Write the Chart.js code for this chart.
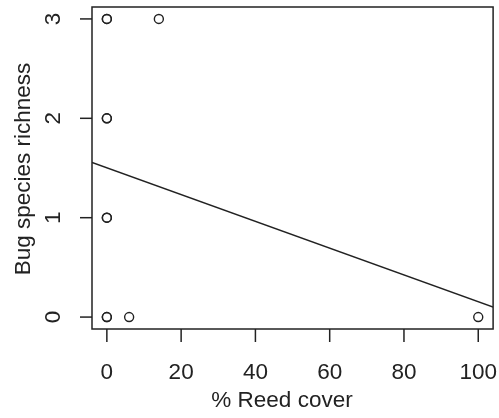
<!DOCTYPE html>
<html>
<head>
<meta charset="utf-8">
<script src="https://cdn.jsdelivr.net/npm/chart.js@4/dist/chart.umd.min.js"></script>
<style>
html,body{margin:0;padding:0;background:#fff;}
#wrap{width:499px;height:418px;}
</style>
</head>
<body>
<div id="wrap"><canvas id="c" width="499" height="418"></canvas></div>
<script>
// Data
const reedCover = [0, 0, 14, 0, 0, 0, 0, 0, 0, 6, 100];
const richness  = [3, 3, 3, 2, 2, 1, 1, 0, 0, 0, 0];
// fitted line read at the box edges
const fitX = [-4, 104];
const fitY = [1.556, 0.10];
const xTicks = [0, 20, 40, 60, 80, 100];
const yTicks = [0, 1, 2, 3];
const xTitle = '% Reed cover';
const yTitle = 'Bug species richness';

const ink = '#222';
const FONT = '22.5px "Liberation Sans", Arial, sans-serif';

const rAxes = {
  id: 'rAxes',
  afterDraw(chart) {
    const ctx = chart.ctx, a = chart.chartArea;
    const xs = chart.scales.x, ys = chart.scales.y;
    ctx.save();
    ctx.strokeStyle = ink;
    ctx.lineWidth = 1.5;
    ctx.strokeRect(a.left, a.top, a.right - a.left, a.bottom - a.top);
    ctx.fillStyle = ink;
    ctx.font = FONT;
    // x ticks
    ctx.textAlign = 'center';
    ctx.textBaseline = 'middle';
    xTicks.forEach(v => {
      const p = xs.getPixelForValue(v);
      ctx.beginPath();
      ctx.moveTo(p, a.bottom);
      ctx.lineTo(p, a.bottom + 13);
      ctx.stroke();
      ctx.fillText(String(v), p, 373);
    });
    // y ticks
    yTicks.forEach(v => {
      const p = ys.getPixelForValue(v);
      ctx.beginPath();
      ctx.moveTo(a.left, p);
      ctx.lineTo(a.left - 12, p);
      ctx.stroke();
      ctx.save();
      ctx.translate(54, p);
      ctx.rotate(-Math.PI / 2);
      ctx.fillText(String(v), 0, 0);
      ctx.restore();
    });
    // titles
    ctx.fillText(xTitle, 282, 401);
    ctx.save();
    ctx.translate(24, 169);
    ctx.rotate(-Math.PI / 2);
    ctx.fillText(yTitle, 0, 0);
    ctx.restore();
    ctx.restore();
  }
};

new Chart(document.getElementById('c'), {
  data: {
    datasets: [
      {
        type: 'scatter',
        data: reedCover.map((x, i) => ({x: x, y: richness[i]})),
        pointStyle: 'circle',
        pointRadius: 4.5,
        pointBorderWidth: 1.4,
        borderColor: ink,
        backgroundColor: 'rgba(0,0,0,0)',
        pointBackgroundColor: 'rgba(0,0,0,0)'
      },
      {
        type: 'line',
        data: fitX.map((x, i) => ({x: x, y: fitY[i]})),
        borderColor: ink,
        borderWidth: 1.5,
        pointRadius: 0,
        fill: false,
        tension: 0
      }
    ]
  },
  options: {
    responsive: false,
    animation: false,
    events: [],
    layout: {padding: {left: 92, right: 4, top: 7, bottom: 89}},
    plugins: {legend: {display: false}, tooltip: {enabled: false}, title: {display: false}},
    scales: {
      x: {type: 'linear', min: -4, max: 104, display: false},
      y: {type: 'linear', min: -0.12, max: 3.12, display: false}
    }
  },
  plugins: [rAxes]
});
</script>
</body>
</html>
